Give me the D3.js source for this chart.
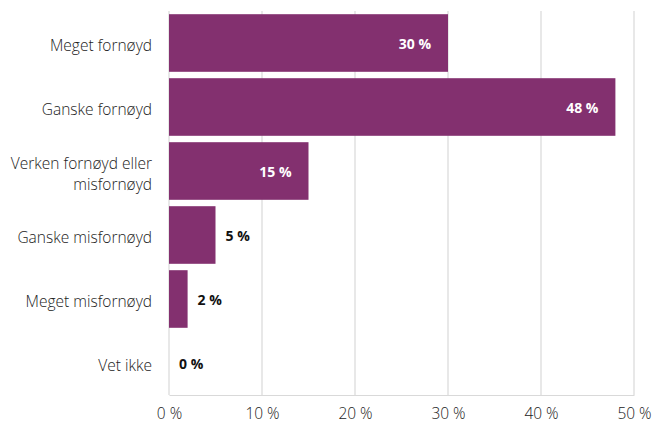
<!DOCTYPE html>
<html>
<head>
<meta charset="utf-8">
<script src="https://cdn.jsdelivr.net/npm/d3@7"></script>
<style>
  html, body { margin: 0; padding: 0; background: #fff; }
  svg { display: block; }
  .cat { font-family: "Open Sans", sans-serif; font-weight: 300; font-size: 15.5px; fill: #222; }
  .tick text { font-family: "Open Sans", sans-serif; font-weight: 300; font-size: 15.5px; fill: #222; }
  .val { font-family: "Open Sans", sans-serif; font-weight: 700; font-size: 14px; }
</style>
</head>
<body>
<script>
// Svar på spørsmål om tilfredshet, andel i prosent
const categories = ["Meget fornøyd", "Ganske fornøyd", "Verken fornøyd eller|misfornøyd", "Ganske misfornøyd", "Meget misfornøyd", "Vet ikke"];
const values = [30, 48, 15, 5, 2, 0];
const ticks = [0, 10, 20, 30, 40, 50];

const W = 654, H = 426;
const margin = { top: 11, right: 20, bottom: 31, left: 169 };
const svg = d3.select("body").append("svg").attr("width", W).attr("height", H);

const x = d3.scaleLinear().domain([0, 50]).range([margin.left, 634]);
const y = d3.scaleBand().domain(categories).range([margin.top, H - margin.bottom]).paddingInner(0.1).paddingOuter(0.05);

// vertikale rutenettlinjer
svg.append("g").selectAll("line").data(ticks).join("line")
  .attr("x1", d => x(d)).attr("x2", d => x(d))
  .attr("y1", margin.top).attr("y2", H - margin.bottom)
  .attr("stroke", "#d9d9d9").attr("stroke-width", 1.2);

// x-akse
const xAxis = d3.axisBottom(x).tickValues(ticks).tickSize(0).tickPadding(13).tickFormat(d => d + " %");
const gx = svg.append("g").attr("transform", `translate(0,${H - margin.bottom})`).call(xAxis);
gx.select(".domain").attr("stroke", "#d9d9d9").attr("stroke-width", 1.2);

// stolper
svg.append("g").selectAll("rect").data(values).join("rect")
  .attr("x", x(0))
  .attr("y", (d, i) => y(categories[i]))
  .attr("width", d => x(d) - x(0))
  .attr("height", y.bandwidth())
  .attr("fill", "#83306f");

// kategorinavn
const cat = svg.append("g").selectAll("text").data(categories).join("text")
  .attr("class", "cat")
  .attr("text-anchor", "end")
  .attr("x", margin.left - 17)
  .attr("y", d => y(d) + y.bandwidth() / 2 + 3);
cat.each(function(d) {
  const lines = d.split("|");
  const t = d3.select(this);
  lines.forEach((l, k) => {
    t.append("tspan").attr("x", margin.left - 17)
      .attr("dy", k === 0 ? (0.35 - (lines.length - 1) * 0.68) + "em" : "1.36em")
      .text(l);
  });
});

// verdietiketter
svg.append("g").selectAll("text").data(values).join("text")
  .attr("class", "val")
  .attr("y", (d, i) => y(categories[i]) + y.bandwidth() / 2 + 1)
  .attr("dy", "0.35em")
  .attr("x", d => d >= 10 ? x(d) - 17 : x(d) + 10)
  .attr("text-anchor", d => d >= 10 ? "end" : "start")
  .attr("fill", d => d >= 10 ? "#fff" : "#111")
  .text(d => d + " %");
</script>
</body>
</html>
